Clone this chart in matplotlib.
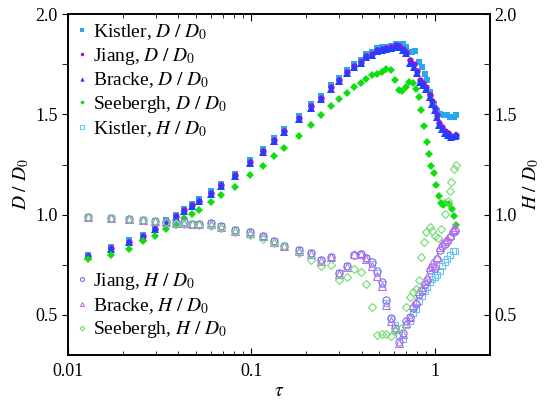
import numpy as np
import matplotlib
matplotlib.use("Agg")
import matplotlib.pyplot as plt
from matplotlib.ticker import MultipleLocator, NullFormatter

plt.rcParams["font.family"] = ["Liberation Serif", "DejaVu Serif"]
plt.rcParams["mathtext.fontset"] = "stix"

# ---- D / D0 data ----
tau_d = [0.01284, 0.01708, 0.02141, 0.02575, 0.02994, 0.0342, 0.03864, 0.04289, 0.04724, 0.0516,
         0.05998, 0.06859, 0.08137, 0.0987,
         0.1157, 0.1335, 0.1506, 0.1811, 0.2107, 0.2409, 0.2732, 0.302, 0.3323, 0.3646, 0.3947,
         0.424, 0.4549, 0.4869, 0.5159, 0.5452, 0.5776, 0.6127, 0.6418, 0.669, 0.6973, 0.7305,
         0.7683, 0.8008, 0.8356, 0.8602, 0.8966, 0.9391, 0.9667, 1.0, 1.029, 1.061, 1.096, 1.144,
         1.182, 1.233, 1.286, 1.307]
bracke_d = [0.792, 0.829, 0.864, 0.89, 0.927, 0.962, 0.99, 1.019, 1.044, 1.067,
            1.104, 1.142, 1.192, 1.259,
            1.31, 1.365, 1.41, 1.477, 1.534, 1.577, 1.629, 1.667, 1.707, 1.735, 1.754,
            1.784, 1.797, 1.817, 1.82, 1.824, 1.83, 1.837, 1.837, 1.82, 1.804, 1.757,
            1.737, 1.704, 1.662, 1.645, 1.629, 1.587, 1.554, 1.52, 1.487, 1.445, 1.429, 1.407,
            1.399, 1.387, 1.39, 1.395]
jiang_d = [0.795, 0.832, 0.866, 0.893, 0.93, 0.965, 0.993, 1.022, 1.047, 1.07,
           1.107, 1.146, 1.196, 1.263,
           1.315, 1.37, 1.416, 1.482, 1.54, 1.583, 1.635, 1.672, 1.712, 1.74, 1.76,
           1.79, 1.803, 1.823, 1.827, 1.832, 1.838, 1.845, 1.842, 1.828, 1.812, 1.77,
           1.75, 1.715, 1.672, 1.655, 1.638, 1.595, 1.565, 1.53, 1.497, 1.455, 1.437, 1.415,
           1.405, 1.392, 1.394, 1.398]

tau_kd = [0.01284, 0.01708, 0.02141, 0.02575, 0.02994, 0.0342, 0.03864, 0.04289, 0.04724, 0.0516,
          0.05998, 0.06859, 0.08137, 0.0987,
          0.1157, 0.1335, 0.1506, 0.1811, 0.2107, 0.2409, 0.2732, 0.302, 0.3323, 0.3646, 0.3947,
          0.424, 0.4549, 0.4869, 0.5159, 0.5452, 0.5776, 0.6127, 0.6418,
          0.669, 0.6973, 0.752, 0.785, 0.818, 0.852, 0.882, 0.908, 0.947, 0.987, 1.029, 1.074,
          1.12, 1.168, 1.218, 1.27, 1.307]
kistler_d = [0.80, 0.84, 0.873, 0.9, 0.937, 0.972, 1.0, 1.03, 1.055, 1.078,
             1.116, 1.155, 1.205, 1.273,
             1.325, 1.38, 1.425, 1.492, 1.55, 1.592, 1.645, 1.68, 1.722, 1.75, 1.77,
             1.8, 1.81, 1.83, 1.835, 1.838, 1.843, 1.85, 1.852,
             1.85, 1.835, 1.811, 1.817, 1.762, 1.737, 1.703, 1.67, 1.612, 1.554, 1.517, 1.503,
             1.498, 1.495, 1.487, 1.487, 1.498]

tau_sd = [0.01284, 0.01708, 0.02141, 0.02575, 0.02994, 0.0342, 0.03864, 0.04289, 0.04724, 0.0516,
          0.05998, 0.06859, 0.08137, 0.0987,
          0.1157, 0.1335, 0.1506, 0.1811, 0.2107, 0.2409, 0.2732, 0.302, 0.3323, 0.3646, 0.3947,
          0.424, 0.4549, 0.4869, 0.5159, 0.5452, 0.5776,
          0.605, 0.6363, 0.6632, 0.6973, 0.7278, 0.7586, 0.7907, 0.818, 0.8461, 0.874, 0.908,
          0.9355, 0.9594, 0.9874, 1.0165, 1.0515, 1.0877, 1.1098, 1.144, 1.1924, 1.2428, 1.2744,
          1.307]
seebergh_d = [0.779, 0.80, 0.829, 0.867, 0.895, 0.929, 0.949, 0.982, 1.002, 1.024,
              1.062, 1.097, 1.14, 1.197,
              1.245, 1.29, 1.33, 1.39, 1.447, 1.497, 1.542, 1.575, 1.609, 1.637, 1.657,
              1.675, 1.695, 1.699, 1.712, 1.725, 1.72,
              1.67, 1.62, 1.615, 1.637, 1.659, 1.654, 1.629, 1.587, 1.524, 1.44, 1.362,
              1.304, 1.245, 1.207, 1.15, 1.095, 1.057, 1.05, 1.057, 1.054, 1.029, 0.995,
              0.95]

# ---- H / D0 data ----
tau_h = [0.01284, 0.01708, 0.02141, 0.02575, 0.02994, 0.0342, 0.03864, 0.04289, 0.04724, 0.0516,
         0.05998, 0.06859, 0.08137, 0.0987,
         0.1157, 0.1335, 0.1506, 0.1811, 0.2107, 0.2409, 0.2732, 0.302,
         0.3323, 0.3646, 0.3947, 0.424, 0.4549,
         0.4845, 0.516, 0.5452, 0.5776, 0.6104, 0.6363,
         0.669, 0.6973, 0.7305, 0.7614, 0.7907, 0.8252, 0.852, 0.882, 0.9125, 0.9391, 0.9667, 1.0,
         1.0344, 1.0649, 1.096, 1.1339, 1.1736, 1.218, 1.2537, 1.297]
jiang_h = [0.99, 0.984, 0.979, 0.974, 0.97, 0.965, 0.96, 0.962, 0.954, 0.954,
           0.957, 0.942, 0.924, 0.912,
           0.895, 0.87, 0.845, 0.823, 0.807, 0.773, 0.79, 0.707,
           0.742, 0.798, 0.803, 0.782, 0.762,
           0.72, 0.662, 0.573, 0.487, 0.437, 0.367,
           0.412, 0.47, 0.49, 0.537, 0.557, 0.603, 0.62, 0.653, 0.673, 0.723, 0.74, 0.733,
           0.778, 0.823, 0.845, 0.853, 0.87, 0.887, 0.912, 0.92]
bracke_h = [0.99, 0.983, 0.978, 0.972, 0.968, 0.962, 0.958, 0.958, 0.952, 0.951,
            0.955, 0.94, 0.92, 0.908,
            0.892, 0.866, 0.842, 0.82, 0.804, 0.77, 0.787, 0.703,
            0.738, 0.802, 0.806, 0.778, 0.745,
            0.695, 0.645, 0.55, 0.47, 0.43, 0.362,
            0.405, 0.46, 0.49, 0.55, 0.57, 0.62, 0.64, 0.67, 0.69, 0.74, 0.76, 0.75,
            0.79, 0.84, 0.86, 0.87, 0.88, 0.9, 0.93, 0.94]
kistler_h = [0.99, 0.984, 0.979, 0.974, 0.97, 0.965, 0.96, 0.962, 0.954, 0.954,
             0.957, 0.942, 0.924, 0.912,
             0.895, 0.87, 0.845, 0.823, 0.807, 0.773, 0.79, 0.707,
             0.742, 0.798, 0.803, 0.782, 0.755,
             0.71, 0.655, 0.56, 0.48, 0.45, 0.40,
             0.38, 0.45, 0.47, 0.51, 0.53, 0.57, 0.595, 0.62, 0.64, 0.665, 0.68, 0.69,
             0.70, 0.72, 0.745, 0.765, 0.78, 0.80, 0.82, 0.82]

tau_sh = [0.01284, 0.01708, 0.02141, 0.02575, 0.02994, 0.0342, 0.03864, 0.04289, 0.04724, 0.0516,
          0.05998, 0.06859, 0.08137, 0.0987,
          0.1157, 0.1335, 0.1506, 0.1811, 0.2107, 0.2409, 0.2732, 0.302,
          0.3323, 0.3646, 0.3947, 0.424, 0.4549,
          0.4845, 0.516, 0.5452, 0.5776, 0.6104, 0.6582, 0.6973, 0.7305, 0.7614, 0.7948, 0.818,
          0.8421, 0.874, 0.901, 0.9391, 0.9667, 1.0, 1.0385, 1.0877, 1.1339, 1.182, 1.2077,
          1.233, 1.27, 1.307]
seebergh_h = [0.99, 0.984, 0.979, 0.974, 0.968, 0.962, 0.955, 0.955, 0.951, 0.948,
              0.945, 0.932, 0.912, 0.9,
              0.878, 0.858, 0.842, 0.808, 0.775, 0.742, 0.748, 0.675,
              0.687, 0.728, 0.712, 0.653, 0.54,
              0.40, 0.407, 0.407, 0.395, 0.42, 0.437, 0.54, 0.587, 0.612, 0.628, 0.673,
              0.787, 0.865, 0.915, 0.937, 0.92, 0.895, 0.883, 0.928, 1.003, 1.07, 1.12,
              1.162, 1.228, 1.248]

c_kis = "#2aa8ee"
c_jia = "#a010d0"
c_bra = "#2040ff"
c_see = "#10dd10"

fig = plt.figure(figsize=(5.49, 4.03), dpi=100)
ax = fig.add_axes([0.124, 0.119, 0.768, 0.846])

lab = r"$%s\ /\ D_0$"
h1 = ax.plot(tau_kd, kistler_d, "s", color=c_kis, ms=4.8, mew=0, label="Kistler, " + lab % "D")[0]
h2 = ax.plot(tau_d, jiang_d, "o", color=c_jia, ms=4.6, mew=0, label="Jiang, " + lab % "D")[0]
h3 = ax.plot(tau_d, bracke_d, "^", color=c_bra, ms=5.6, mew=0, label="Bracke, " + lab % "D")[0]
h4 = ax.plot(tau_sd, seebergh_d, "D", color=c_see, ms=4.2, mew=0, label="Seebergh, " + lab % "D")[0]

h5 = ax.plot(tau_h, kistler_h, "s", mfc="none", mec="#6cc4f0", ms=4.6, mew=0.8,
             label="Kistler, " + lab % "H")[0]
h6 = ax.plot(tau_h, jiang_h, "o", mfc="none", mec="#7a6af0", ms=5.2, mew=0.8,
             label="Jiang, " + lab % "H")[0]
h7 = ax.plot(tau_h, bracke_h, "^", mfc="none", mec="#c070e8", ms=5.2, mew=0.8,
             label="Bracke, " + lab % "H")[0]
h8 = ax.plot(tau_sh, seebergh_h, "D", mfc="none", mec="#70dd70", ms=4.4, mew=0.8,
             label="Seebergh, " + lab % "H")[0]

ax.set_xscale("log")
ax.set_xlim(0.01, 2.0)
ax.set_ylim(0.3, 2.0)
ax.set_xticks([0.01, 0.1, 1])
ax.set_xticklabels(["0.01", "0.1", "1"])
ax.xaxis.set_minor_formatter(NullFormatter())
ax.yaxis.set_major_locator(MultipleLocator(0.5))
ax.yaxis.set_minor_locator(MultipleLocator(0.25))
ax.tick_params(axis="x", which="both", direction="in", top=True, labelsize=13, pad=6)
ax.tick_params(axis="x", which="major", length=5)
ax.tick_params(axis="x", which="minor", length=3)
ax.tick_params(axis="y", which="both", direction="out", length=4, labelsize=13)
ax.set_xlabel(r"$\tau$", fontsize=14, labelpad=2)
ax.set_ylabel(lab % "D", fontsize=14, labelpad=3)

ax2 = ax.twinx()
ax2.set_ylim(0.3, 2.0)
ax2.yaxis.set_major_locator(MultipleLocator(0.5))
ax2.yaxis.set_minor_locator(MultipleLocator(0.25))
ax2.tick_params(axis="y", which="both", direction="in", length=4, labelsize=13)
ax2.set_ylabel(lab % "H", fontsize=14, labelpad=3)

for a in (ax, ax2):
    for s in a.spines.values():
        s.set_linewidth(1.2)

leg_kw = dict(frameon=False, fontsize=14, markerscale=0.55, handlelength=0.6,
              handletextpad=0.3, labelspacing=0.2, borderaxespad=0.1, borderpad=0.3)
leg1 = ax.legend(handles=[h1, h2, h3, h4, h5], loc="upper left",
                 bbox_to_anchor=(0.0, 1.0), **leg_kw)
ax.add_artist(leg1)
ax.legend(handles=[h6, h7, h8], loc="lower left", bbox_to_anchor=(0.0, 0.02), **leg_kw)

fig.savefig("out.png", dpi=100)
